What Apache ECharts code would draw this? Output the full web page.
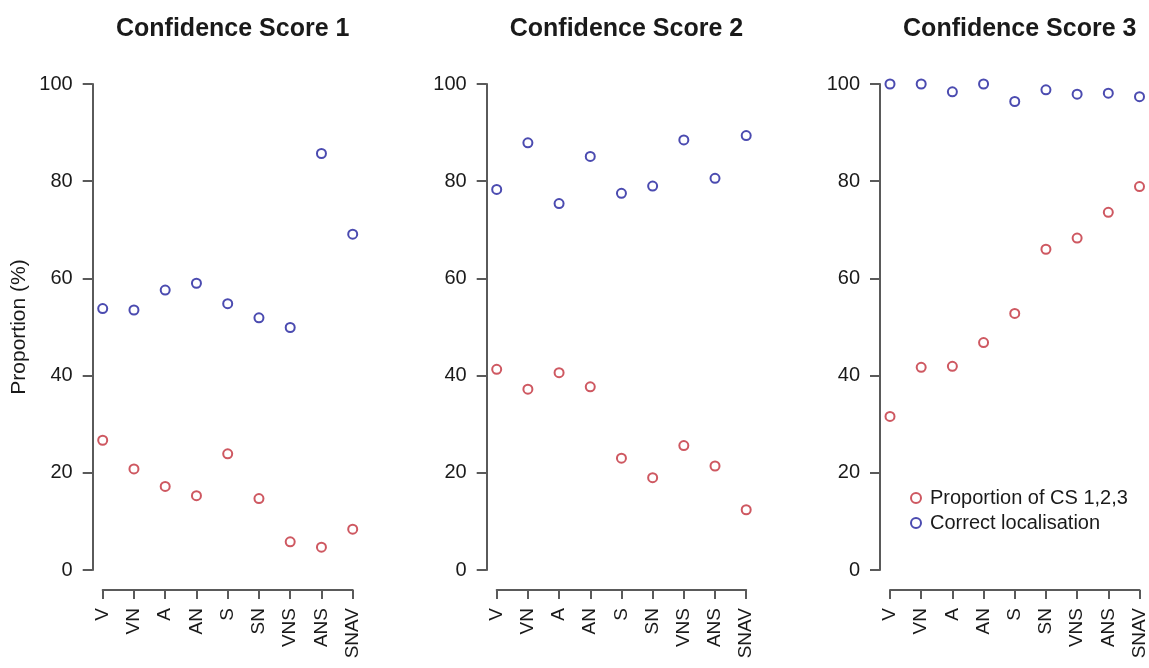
<!DOCTYPE html>
<html>
<head>
<meta charset="utf-8">
<script src="https://cdn.jsdelivr.net/npm/echarts@6/dist/echarts.min.js"></script>
<style>
html,body{margin:0;padding:0;background:#fff;}
#chart{width:1149px;height:668px;}
</style>
</head>
<body>
<div id="chart"></div>
<script>
const categories = ['V','VN','A','AN','S','SN','VNS','ANS','SNAV'];
const panelTitles = ['Confidence Score 1','Confidence Score 2','Confidence Score 3'];
const yTicks = [0,20,40,60,80,100];
const seriesNames = ['Proportion of CS 1,2,3','Correct localisation'];

const propCS1 = [26.7,20.8,17.2,15.3,23.9,14.7,5.8,4.7,8.4];
const correctCS1 = [53.8,53.5,57.6,59.0,54.8,51.9,49.9,85.7,69.1];
const propCS2 = [41.3,37.2,40.6,37.7,23.0,19.0,25.6,21.4,12.4];
const correctCS2 = [78.3,87.9,75.4,85.1,77.5,79.0,88.5,80.6,89.4];
const propCS3 = [31.6,41.7,41.9,46.8,52.8,66.0,68.3,73.6,78.9];
const correctCS3 = [100,100,98.4,100,96.4,98.8,97.9,98.1,97.4];

const propData = [propCS1, propCS2, propCS3];
const correctData = [correctCS1, correctCS2, correctCS3];

const FONT = '"Liberation Sans", Arial, Helvetica, sans-serif';
const RED = '#c22e3a';
const BLUE = '#1e1e9c';
const AXIS = '#5a5a5a';
const TEXT = '#1a1a1a';

const grids = [
  {left:102.7, width:250},
  {left:496.7, width:249.5},
  {left:890, width:249.5}
];

const option = {
  animation:false,
  backgroundColor:'#fff',
  textStyle:{fontFamily:FONT},
  title: grids.map((g,i)=>({
    text: panelTitles[i],
    left: g.left - 10 + (g.width + 20)/2,
    textAlign:'center',
    top: 12,
    textStyle:{fontFamily:FONT,fontWeight:'bold',fontSize:25,color:TEXT}
  })),
  legend:{
    orient:'vertical',
    left: 905,
    top: 483,
    itemWidth:10,
    itemHeight:10,
    itemGap:5,
    textStyle:{fontFamily:FONT,fontSize:20,color:TEXT,padding:[0,0,0,4]},
    data: seriesNames.map(n=>({name:n, icon:'emptyCircle'}))
  },
  grid: grids.map(g=>({left:g.left, width:g.width, top:84, bottom:98, containLabel:false})),
  xAxis: grids.map((g,i)=>({
    type:'category',
    gridIndex:i,
    data:categories,
    boundaryGap:false,
    offset:20,
    axisLine:{onZero:false,lineStyle:{color:AXIS,width:2}},
    axisTick:{alignWithLabel:true,length:9,lineStyle:{color:AXIS,width:2}},
    axisLabel:{rotate:90,margin:18,fontSize:19,color:TEXT,fontFamily:FONT,interval:0},
    splitLine:{show:false}
  })),
  yAxis: grids.map((g,i)=>({
    type:'value',
    gridIndex:i,
    min:0,max:100,interval:20,
    offset:10,
    name: i===0 ? 'Proportion (%)' : '',
    nameLocation:'middle',
    nameRotate:90,
    nameGap:63,
    nameTextStyle:{fontFamily:FONT,fontSize:21,color:TEXT},
    axisLine:{show:true,onZero:false,lineStyle:{color:AXIS,width:2}},
    axisTick:{show:true,length:10,lineStyle:{color:AXIS,width:2}},
    axisLabel:{margin:20,fontSize:20,color:TEXT,fontFamily:FONT,
      formatter:v=> yTicks.indexOf(v)>=0 ? String(v) : ''},
    splitLine:{show:false}
  })),
  series: []
};

for (let i=0;i<3;i++){
  option.series.push({
    name: seriesNames[0], type:'scatter', xAxisIndex:i, yAxisIndex:i,
    data: propData[i], symbol:'emptyCircle', symbolSize:9,
    itemStyle:{color:RED, borderColor:RED, borderWidth:1.8}
  });
  option.series.push({
    name: seriesNames[1], type:'scatter', xAxisIndex:i, yAxisIndex:i,
    data: correctData[i], symbol:'emptyCircle', symbolSize:9,
    itemStyle:{color:BLUE, borderColor:BLUE, borderWidth:1.8}
  });
}

const chart = echarts.init(document.getElementById('chart'), null, {renderer:'canvas'});
chart.setOption(option);
</script>
</body>
</html>
